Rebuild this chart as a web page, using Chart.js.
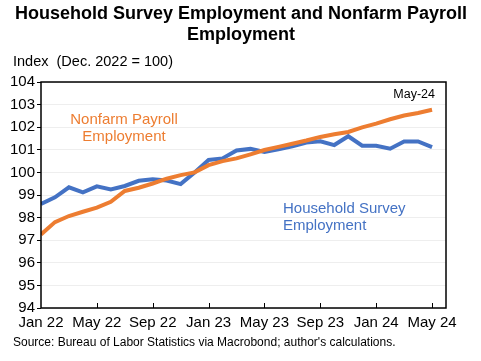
<!DOCTYPE html>
<html>
<head>
<meta charset="utf-8">
<script src="https://cdn.jsdelivr.net/npm/chart.js@4.4.1/dist/chart.umd.min.js"></script>
<style>
  html, body { margin: 0; padding: 0; background: #fff; }
  #wrap { width: 481px; height: 361px; position: relative; }
</style>
</head>
<body>
<div id="wrap"><canvas id="chart" width="481" height="361"></canvas></div>
<script>
// Data (index, Dec. 2022 = 100)
const months = [
  'Jan 22', 'Feb 22', 'Mar 22', 'Apr 22', 'May 22', 'Jun 22', 'Jul 22', 'Aug 22', 'Sep 22', 'Oct 22', 'Nov 22', 'Dec 22',
  'Jan 23', 'Feb 23', 'Mar 23', 'Apr 23', 'May 23', 'Jun 23', 'Jul 23', 'Aug 23', 'Sep 23', 'Oct 23', 'Nov 23', 'Dec 23',
  'Jan 24', 'Feb 24', 'Mar 24', 'Apr 24', 'May 24'
];
const household = [
  98.6, 98.9, 99.34, 99.12, 99.38, 99.25, 99.4, 99.63, 99.7, 99.64, 99.48, 100.0,
  100.55, 100.62, 100.97, 101.04, 100.9, 101.02, 101.15, 101.32, 101.38, 101.21, 101.6, 101.18,
  101.18, 101.05, 101.37, 101.37, 101.12
];
const nonfarm = [
  97.25, 97.8, 98.07, 98.26, 98.44, 98.7, 99.18, 99.32, 99.51, 99.72, 99.88, 100.0,
  100.32, 100.5, 100.62, 100.8, 100.99, 101.13, 101.27, 101.41, 101.57, 101.69, 101.79, 101.99,
  102.16, 102.35, 102.52, 102.63, 102.77
];
const yTicks = [94, 95, 96, 97, 98, 99, 100, 101, 102, 103, 104];

const BLUE = '#4472C4';
const ORANGE = '#ED7D31';
const FONT = '"Liberation Sans", Arial, sans-serif';

// Titles, annotations, box and x tick marks
const decor = {
  id: 'decor',
  afterDraw(chart) {
    const ctx = chart.ctx;
    const a = chart.chartArea;
    const x = chart.scales.x;
    ctx.save();

    ctx.fillStyle = '#000';
    ctx.font = 'bold 18px ' + FONT;
    ctx.textAlign = 'center';
    ctx.textBaseline = 'middle';
    ctx.fillText('Household Survey Employment and Nonfarm Payroll', 241, 14);
    ctx.fillText('Employment', 241, 35);

    ctx.font = '14.5px ' + FONT;
    ctx.textAlign = 'left';
    ctx.fillText('Index  (Dec. 2022 = 100)', 13, 62);

    ctx.font = '12px ' + FONT;
    ctx.fillText("Source: Bureau of Labor Statistics via Macrobond; author's calculations.", 13, 343);

    // series labels
    ctx.font = '15px ' + FONT;
    ctx.fillStyle = ORANGE;
    ctx.textAlign = 'center';
    ctx.fillText('Nonfarm Payroll', 124, 120);
    ctx.fillText('Employment', 124, 137);

    ctx.fillStyle = BLUE;
    ctx.textAlign = 'left';
    ctx.fillText('Household Survey', 283, 209);
    ctx.fillText('Employment', 283, 226);

    ctx.fillStyle = '#000';
    ctx.font = '12.5px ' + FONT;
    ctx.textAlign = 'right';
    ctx.fillText('May-24', 435, 95);

    // x tick marks pointing into the plot
    ctx.strokeStyle = '#000';
    ctx.lineWidth = 1;
    for (let i = 4; i < months.length; i += 4) {
      const px = Math.round(x.getPixelForValue(i)) + 0.5;
      ctx.beginPath();
      ctx.moveTo(px, a.bottom);
      ctx.lineTo(px, a.bottom - 5);
      ctx.stroke();
    }

    // plot box
    ctx.lineWidth = 1.5;
    ctx.strokeRect(a.left, a.top, a.right - a.left, a.bottom - a.top);
    ctx.restore();
  }
};

new Chart(document.getElementById('chart'), {
  type: 'line',
  data: {
    datasets: [
      {
        label: 'Household Survey Employment',
        data: household.map((v, i) => ({ x: i, y: v })),
        borderColor: BLUE,
        borderWidth: 4,
        pointRadius: 0,
        tension: 0,
        order: 2
      },
      {
        label: 'Nonfarm Payroll Employment',
        data: nonfarm.map((v, i) => ({ x: i, y: v })),
        borderColor: ORANGE,
        borderWidth: 4,
        pointRadius: 0,
        tension: 0,
        order: 1
      }
    ]
  },
  options: {
    responsive: false,
    animation: false,
    layout: { padding: { top: 82, right: 35, left: 0, bottom: 0 } },
    plugins: {
      legend: { display: false },
      tooltip: { enabled: false }
    },
    scales: {
      x: {
        type: 'linear',
        min: 0,
        max: months.length,
        afterBuildTicks: s => {
          s.ticks = months.map((m, i) => ({ value: i })).filter(t => t.value % 4 === 0);
        },
        afterFit: s => { s.height = 53; },
        grid: { display: false },
        border: { display: false },
        ticks: {
          autoSkip: false,
          maxRotation: 0,
          color: '#000',
          font: { family: FONT, size: 15 },
          padding: -2,
          callback: v => months[v]
        }
      },
      y: {
        min: 94,
        max: 104,
        afterBuildTicks: s => { s.ticks = yTicks.map(v => ({ value: v })); },
        afterFit: s => { s.width = 41; },
        border: { display: false },
        grid: { color: '#eeeeee', lineWidth: 1, tickLength: 4, tickColor: '#000' },
        ticks: {
          color: '#000',
          font: { family: FONT, size: 15 },
          padding: 2
        }
      }
    }
  },
  plugins: [decor]
});
</script>
</body>
</html>
